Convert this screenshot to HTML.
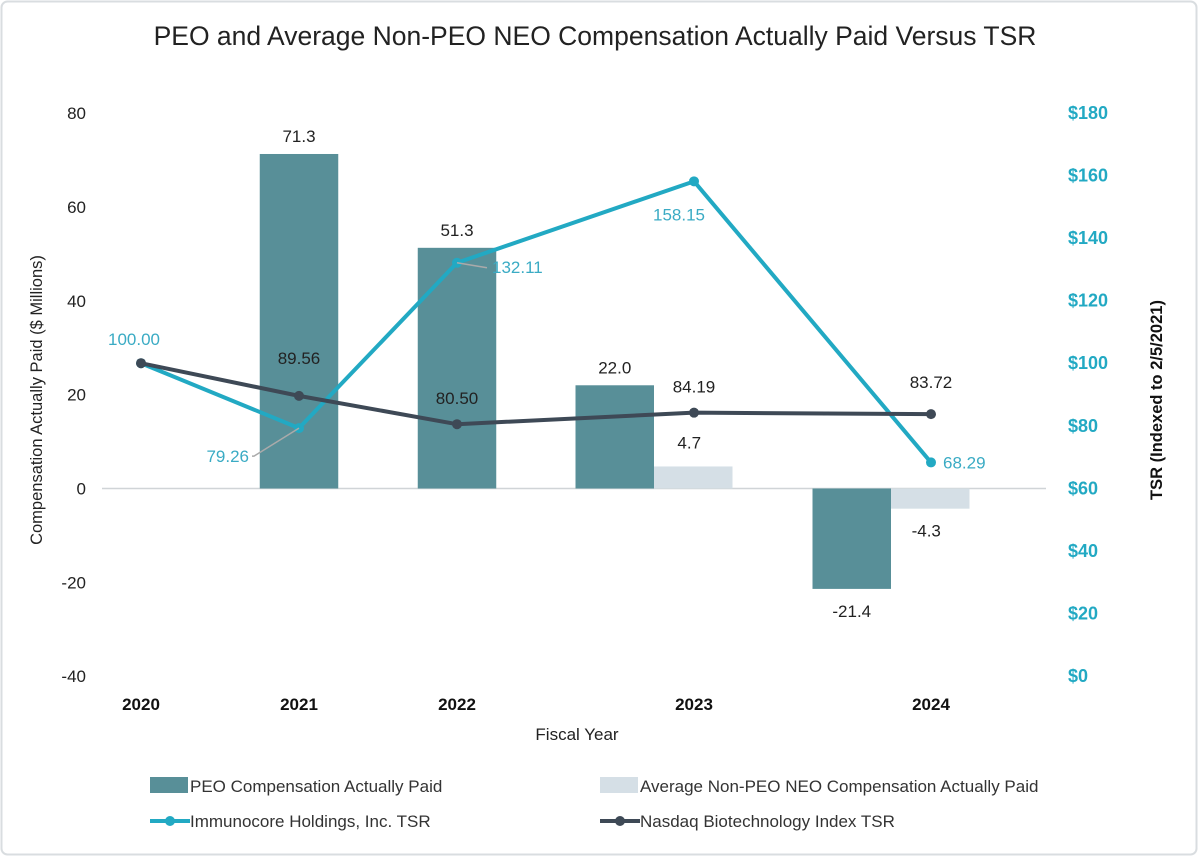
<!DOCTYPE html>
<html><head><meta charset="utf-8"><style>
body{margin:0;background:#fff;}
svg{display:block;font-family:"Liberation Sans",sans-serif;}
</style></head><body>
<svg id="chart" width="1198" height="856" viewBox="0 0 1198 856">
<rect x="1.5" y="1.5" width="1195" height="853" rx="6" fill="#fff" stroke="#d9dde0" stroke-width="2"/>
<text x="595" y="45" text-anchor="middle" font-size="26.5" fill="#222">PEO and Average Non-PEO NEO Compensation Actually Paid Versus TSR</text>
<g id="axes"></g>
<g id="bars"></g>
<g id="lines"></g>
<g id="labels"></g>
<text x="577" y="740" text-anchor="middle" font-size="17" fill="#222">Fiscal Year</text>
<text transform="translate(42,400) rotate(-90)" text-anchor="middle" font-size="16.5" fill="#222">Compensation Actually Paid ($ Millions)</text>
<text transform="translate(1162,400) rotate(-90)" text-anchor="middle" font-size="16.5" font-weight="bold" fill="#111">TSR (Indexed to 2/5/2021)</text>
<g>
<rect x="150" y="777" width="38" height="16" fill="#588f98"/>
<text x="190" y="792" font-size="17" fill="#333">PEO Compensation Actually Paid</text>
<rect x="600" y="777" width="38" height="16" fill="#d5dfe6"/>
<text x="640" y="792" font-size="17" fill="#333">Average Non-PEO NEO Compensation Actually Paid</text>
<line x1="150" y1="821" x2="190" y2="821" stroke="#22a9c3" stroke-width="4"/>
<circle cx="170" cy="821" r="5" fill="#22a9c3"/>
<text x="190" y="827" font-size="17" fill="#333">Immunocore Holdings, Inc. TSR</text>
<line x1="600" y1="821" x2="640" y2="821" stroke="#3e4956" stroke-width="4"/>
<circle cx="620" cy="821" r="5" fill="#3e4956"/>
<text x="640" y="827" font-size="17" fill="#333">Nasdaq Biotechnology Index TSR</text>
</g>
</svg>
<script>
const categories=["2020","2021","2022","2023","2024"];
const peoValues=[null,71.3,51.3,22.0,-21.4];
const nonPeoValues=[null,null,null,4.7,-4.3];
const immunocoreTSR=[100.00,79.26,132.11,158.15,68.29];
const nasdaqTSR=[100.00,89.56,80.50,84.19,83.72];
const leftTicks=[80,60,40,20,0,-20,-40];
const rightTicks=[180,160,140,120,100,80,60,40,20,0];

const NS="http://www.w3.org/2000/svg";
function mk(tag,attrs,parent,text){const e=document.createElementNS(NS,tag);for(const k in attrs)e.setAttribute(k,attrs[k]);if(text!=null)e.textContent=text;parent.appendChild(e);return e;}
const yL=v=>488.5-(v)*(563/120);
const yR=v=>676-v*(563/180);
const catX=[];
{let x=141;for(let i=0;i<categories.length;i++){if(i>0){const w=(nonPeoValues[i]!=null)?237:158;x+=w;}catX.push(x);}}
const bw=78.5;
const FS=17;
const axes=document.getElementById('axes'),bars=document.getElementById('bars'),lines=document.getElementById('lines'),labels=document.getElementById('labels');
leftTicks.forEach(t=>{const e=mk('text',{x:86,y:yL(t)+6,'text-anchor':'end','font-size':17,fill:'#222'},axes,String(t));

});
rightTicks.forEach(t=>{const e=mk('text',{x:1068,y:yR(t)+6,'font-size':18,fill:'#22a9c3','font-weight':'bold'},axes,'$'+t);

});
const zl=mk('line',{x1:102,x2:1046,y1:yL(0),y2:yL(0),stroke:'#d0d4d7','stroke-width':1.5},axes);


categories.forEach((c,i)=>{const e=mk('text',{x:catX[i],y:710,'text-anchor':'middle','font-size':17,'font-weight':'bold',fill:'#111'},axes,c);

});
categories.forEach((c,i)=>{
 const p=peoValues[i],n=nonPeoValues[i];if(p==null)return;
 const px=n==null?catX[i]-bw/2:catX[i]-40-bw;
 const r=mk('rect',{x:px,y:Math.min(yL(p),yL(0)),width:bw,height:Math.abs(yL(p)-yL(0)),fill:'#588f98'},bars);
 
 
 const ly=p>=0?yL(p)-12:yL(p)+28;
 const t=mk('text',{x:px+bw/2,y:ly,'text-anchor':'middle','font-size':FS,fill:'#222'},labels,p.toFixed(1));
 
 
 if(n!=null){const nx=px+bw;const r2=mk('rect',{x:nx,y:Math.min(yL(n),yL(0)),width:bw,height:Math.abs(yL(n)-yL(0)),fill:'#d5dfe6'},bars);
 
 
 const ly2=n>=0?yL(n)-18:yL(n)+28;
 const t2=mk('text',{x:nx+bw/2-4,y:ly2,'text-anchor':'middle','font-size':FS,fill:'#222'},labels,n.toFixed(1));
 
 }
});
function series(vals,color,name){
 const pts=vals.map((v,i)=>catX[i]+','+yR(v)).join(' ');
 const pl=mk('polyline',{points:pts,fill:'none',stroke:color,'stroke-width':4,'stroke-linejoin':'round'},lines);
 
 
 vals.forEach((v,i)=>{const c=mk('circle',{cx:catX[i],cy:yR(v),r:5,fill:color},lines);
 
 });
}
series(immunocoreTSR,'#22a9c3','immunocore');
series(nasdaqTSR,'#3e4956','nasdaq');
const imOff=[[-8,-22,'middle'],[-50,14,'end'],[35,10,'start'],[-15,39,'middle'],[12,6,'start']];
immunocoreTSR.forEach((v,i)=>{
 if(i==0)return;
 const [dx,dy,a]=imOff[i];const x=catX[i],y=yR(v);
 if(i==1){const l=mk('path',{d:`M${x} ${y} L${x-45} ${y+28} L${x-47} ${y+28}`,stroke:'#aaa','stroke-width':1.5,fill:'none'},labels);}
 if(i==2){const l=mk('path',{d:`M${x} ${y} L${x+30} ${y+5}`,stroke:'#aaa','stroke-width':1.5,fill:'none'},labels);}
 const t=mk('text',{x:x+dx,y:i==1?y+28+6:y+dy,'text-anchor':a,'font-size':FS,fill:'#3aabc4'},labels,v.toFixed(2));
 
 
});
{const t=mk('text',{x:catX[0]-7,y:yR(immunocoreTSR[0])-18,'text-anchor':'middle','font-size':FS,fill:'#3aabc4'},labels,immunocoreTSR[0].toFixed(2));

}
nasdaqTSR.forEach((v,i)=>{if(i==0)return;
 const t=mk('text',{x:catX[i],y:yR(v)-(i==4?26:i==1?32:20),'text-anchor':'middle','font-size':FS,fill:'#222'},labels,v.toFixed(2));
 
 });
</script>
</body></html>
